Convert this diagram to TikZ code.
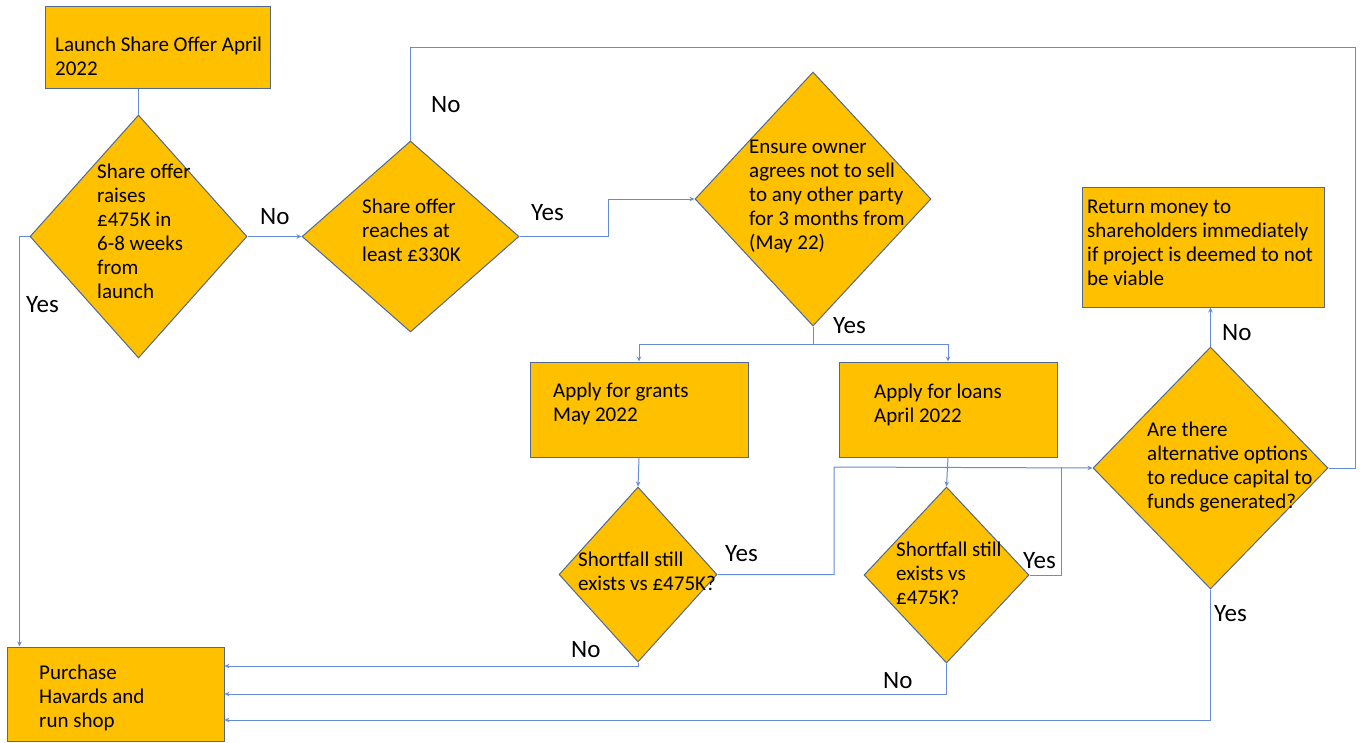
\documentclass[tikz,border=0pt]{standalone}
\usepackage{fontspec}
\setmainfont{Carlito}
\usepackage{tikz}
\usetikzlibrary{arrows.meta, shapes.geometric}
\tikzstyle{flowchart} = [x = 1pt, y = -1pt]
\definecolor{boxFill}{HTML}{FFC000}
\definecolor{boxLine}{HTML}{50698F}
\definecolor{linkColor}{HTML}{658CD8}
\tikzstyle{stepStyle} = [draw=boxLine, fill=boxFill, line width=1pt, rectangle, inner sep=0pt]
\tikzstyle{decisionStyle} = [draw=boxLine, fill=boxFill, line width=1pt, diamond, inner sep=0pt]
\tikzstyle{textStyle} = [font=\fontsize{21}{24}\selectfont, align=left, inner sep=0pt]
\tikzstyle{answerStyle} = [font=\fontsize{25}{30}\selectfont, inner sep=0pt]
\tikzstyle{link} = [color=linkColor, line width=1pt]
\tikzstyle{arrowLink} = [link, -{Stealth[length=5pt, width=4.5pt]}]
\newcommand{\stepNode}[5]{\node [stepStyle, minimum width=#4pt, minimum height=#5pt] (#1) at (#2,#3) {};}
\newcommand{\decisionNode}[5]{\node [decisionStyle, minimum width=#4pt, minimum height=#5pt] (#1) at (#2,#3) {};}
% text is placed by the baseline of its last line
\newcommand{\nodeText}[4]{\node [textStyle, anchor=base west] (#1Text) at (#2,#3) {#4};}
\newcommand{\answerLabel}[4]{\node [answerStyle, anchor=base west] (#1) at (#2,#3) {#4};}

\begin{document}
\begin{tikzpicture}[flowchart]
  \useasboundingbox (0,0) rectangle (1360,742);
  % boxes and decisions
  \stepNode{launch}{157.5}{47}{225}{82}
  \nodeText{launch}{55}{75}{Launch Share Offer April\\2022}
  \decisionNode{raise}{138.5}{236.5}{217}{243}
  \nodeText{raise}{97}{298}{Share offer\\raises\\£475K  in\\6-8 weeks\\from\\launch}
  \decisionNode{reach}{410.5}{236.5}{217}{191}
  \nodeText{reach}{362}{261}{Share offer\\reaches at\\least £330K}
  \decisionNode{ensure}{813}{199}{236}{254}
  \nodeText{ensure}{749}{249}{Ensure owner\\agrees not to sell\\to any other party\\for 3 months from\\(May 22)}
  \stepNode{grants}{639}{409.5}{218}{95}
  \nodeText{grants}{553}{421}{Apply for grants\\May 2022}
  \stepNode{loans}{948}{409.5}{218}{95}
  \nodeText{loans}{874}{422}{Apply for loans\\April 2022}
  \decisionNode{shortG}{638}{574.5}{158}{175}
  \nodeText{shortG}{578}{590}{Shortfall still\\exists vs £475K?}
  \decisionNode{shortL}{946.5}{575}{165}{176}
  \nodeText{shortL}{896}{604}{Shortfall still\\exists vs\\£475K?}
  \decisionNode{options}{1210.5}{468}{235}{242}
  \nodeText{options}{1147}{508}{Are there\\alternative options\\to reduce capital to\\funds generated?}
  \stepNode{giveBack}{1203}{247}{242}{120}
  \nodeText{giveBack}{1087}{285}{Return money to\\shareholders immediately\\if  project is deemed to not\\be viable}
  \stepNode{purchase}{115.5}{694}{217}{94}
  \nodeText{purchase}{39}{727}{Purchase\\Havards and\\run shop}

  % corners of the connectors
  \coordinate (loopCorner) at (1355,47);
  \coordinate (split) at (813,344);
  \coordinate (joinG) at (834,467);
  \coordinate (joinL) at (1061,467);

  % connectors
  \draw [link] (raise.north |- launch.south) -- (raise.north);
  \draw [arrowLink] (raise.east) -- (reach.west);
  \draw [arrowLink] (raise.west) -- ++(-10,0) -| ([xshift=13pt]purchase.north west);
  \draw [link] (reach.north) |- (loopCorner) |- (options.east);
  \draw [arrowLink] (reach.east) -- ++(89,0) |- (ensure.west);
  \draw [link] (ensure.south) -- (split);
  \draw [arrowLink] (split) -| (grants.north);
  \draw [arrowLink] (split) -| (loans.north);
  \draw [arrowLink] (grants.south) -- (shortG.north);
  \draw [arrowLink] (loans.south) -- (shortL.north);
  \draw [arrowLink] (shortG.east) -| (joinG) -- (options.west);
  \draw [link] (shortL.east) -| (joinL);
  \draw [arrowLink] (shortG.south) |- ([yshift=28pt]purchase.east);
  \draw [arrowLink] (shortL.south) |- (purchase.east);
  \draw [arrowLink] (options.south) |- ([yshift=-26pt]purchase.east);
  \draw [arrowLink] (options.north) -- (options.north |- giveBack.south);

  % answers
  \answerLabel{noReach}{260}{224}{No}
  \answerLabel{yesRaise}{26}{312}{Yes}
  \answerLabel{noLoop}{431}{112}{No}
  \answerLabel{yesReach}{531}{220}{Yes}
  \answerLabel{yesEnsure}{833}{333}{Yes}
  \answerLabel{noOptions}{1222}{340}{No}
  \answerLabel{yesShortG}{725}{561}{Yes}
  \answerLabel{noShortG}{571}{657}{No}
  \answerLabel{yesShortL}{1023}{568}{Yes}
  \answerLabel{noShortL}{883}{688}{No}
  \answerLabel{yesOptions}{1214}{621}{Yes}
\end{tikzpicture}
\end{document}
